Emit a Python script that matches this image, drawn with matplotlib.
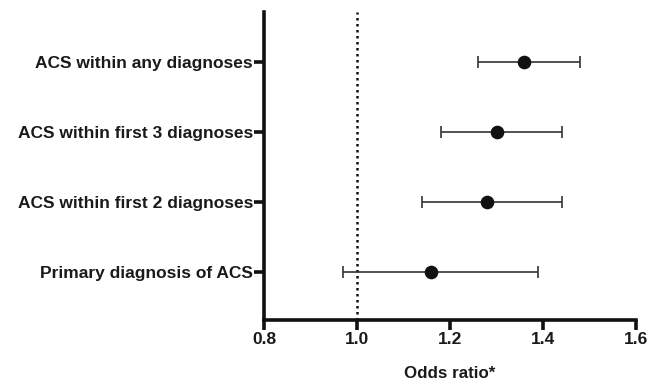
import matplotlib
matplotlib.use("Agg")
import matplotlib.pyplot as plt

categories = ["Primary diagnosis of ACS", "ACS within first 2 diagnoses",
              "ACS within first 3 diagnoses", "ACS within any diagnoses"]
odds = [1.16, 1.28, 1.30, 1.36]
lower = [0.97, 1.14, 1.18, 1.26]
upper = [1.39, 1.44, 1.44, 1.48]
xticks = [0.8, 1.0, 1.2, 1.4, 1.6]
xticklabels = ["0.8", "1.0", "1.2", "1.4", "1.6"]

plt.rcParams['font.family'] = ['Liberation Sans', 'DejaVu Sans']
plt.rcParams['font.weight'] = 'bold'

fig = plt.figure(figsize=(6.59, 3.83), dpi=100)
ax = fig.add_axes([264/659, 1-320/383, (636-264)/659, (320-12)/383])

ypos = list(range(len(categories)))
xerr = [[o - l for o, l in zip(odds, lower)], [u - o for o, u in zip(odds, upper)]]
ax.errorbar(odds, ypos, xerr=xerr, fmt='none', ecolor='#333333', elinewidth=1.2,
            capsize=4.3, capthick=1.2, zorder=2)
ax.plot(odds, ypos, 'o', color='#111111', markersize=8.8, zorder=3)

ax.axvline(1.0, color='#111111', linestyle=(0, (1, 1.4)), linewidth=1.8, zorder=1)

ax.set_xlim(0.8, 1.6)
ax.set_ylim(-0.68, 3.71)
ax.set_xticks(xticks)
ax.set_xticklabels(xticklabels, fontsize=12.5, fontweight='bold', color='#1a1a1a')
ax.set_yticks(ypos)
ax.set_yticklabels(categories, fontsize=12.5, fontweight='bold', color='#1a1a1a')
ax.set_xlabel("Odds ratio*", fontsize=12.2, fontweight='bold', color='#1a1a1a', labelpad=13)

for s in ['top', 'right']:
    ax.spines[s].set_visible(False)
for s in ['left', 'bottom']:
    ax.spines[s].set_linewidth(2.6)
    ax.spines[s].set_color('#111111')
ax.tick_params(axis='x', width=2.6, length=7, color='#111111', pad=2)
ax.tick_params(axis='y', width=2.6, length=7, color='#111111', pad=1)

fig.savefig("out.png", dpi=100)
